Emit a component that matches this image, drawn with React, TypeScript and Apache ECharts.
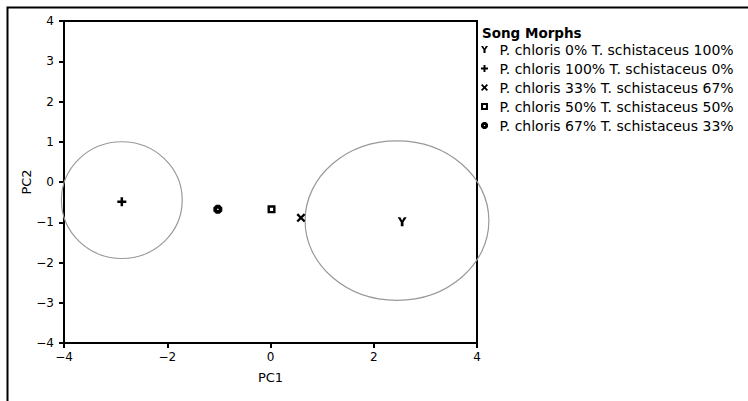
import React, { useEffect, useRef } from "react";
import * as echarts from "echarts";

const seriesNames = [
  "P. chloris 0% T. schistaceus 100%",
  "P. chloris 100% T. schistaceus 0%",
  "P. chloris 33% T. schistaceus 67%",
  "P. chloris 50% T. schistaceus 50%",
  "P. chloris 67% T. schistaceus 33%",
];
const pc1Values = [2.55, -2.88, 0.59, 0.02, -1.02];
const pc2Values = [-0.99, -0.49, -0.89, -0.68, -0.68];
// ellipses: center x, center y, radius x, radius y (data units)
const ellipses = [
  [-2.88, -0.45, 1.17, 1.45],
  [2.45, -0.96, 1.78, 1.98],
];

const SYM_Y = "path://M0,0L3,0L5,3.5L7,0L10,0L6.5,5.5L6.5,10L3.5,10L3.5,5.5Z";
const SYM_PLUS = "path://M3.6,0H6.4V3.6H10V6.4H6.4V10H3.6V6.4H0V3.6H3.6Z";
const SYM_X = "path://M0,1.8L1.8,0L5,3.2L8.2,0L10,1.8L6.8,5L10,8.2L8.2,10L5,6.8L1.8,10L0,8.2L3.2,5Z";
const SYM_SQ = "path://M0,0H10V10H0Z M3,3V7H7V3Z";
const SYM_OCT = "path://M3,0L7,0L10,3L10,7L7,10L3,10L0,7L0,3Z M4.2,4.2V5.8H5.8V4.2Z";
const symbols = [SYM_Y, SYM_PLUS, SYM_X, SYM_SQ, SYM_OCT];
const symbolSizes = [9, 9, 9, 8, 9];

const FONT = "DejaVu Sans";

export default function App() {
  const ref = useRef<HTMLDivElement>(null);
  useEffect(() => {
    document.body.style.margin = "0";
    const chart = echarts.init(ref.current!, null, { renderer: "svg" });
    const fmt = (v: number) => String(v).replace("-", "\u2212");
    const scatter = seriesNames.map((name, i) => ({
      name,
      type: "scatter",
      symbol: symbols[i],
      symbolSize: symbolSizes[i],
      itemStyle: { color: "#000", opacity: 1 },
      data: [[pc1Values[i], pc2Values[i]]],
      z: 3,
    }));
    chart.setOption({
      animation: false,
      textStyle: { fontFamily: FONT },
      title: {
        text: "Song Morphs",
        left: 482,
        top: 26,
        padding: 0,
        textStyle: { fontSize: 13.5, fontWeight: "bold", color: "#000", fontFamily: FONT },
      },
      legend: {
        orient: "vertical",
        left: 481,
        top: 40,
        padding: 0,
        itemGap: 0,
        itemWidth: 20,
        itemHeight: 7,
        data: seriesNames,
        textStyle: { fontSize: 14, lineHeight: 19, color: "#000", fontFamily: FONT },
      },
      grid: {
        left: 64,
        top: 21,
        right: 271,
        bottom: 58,
        show: true,
        borderColor: "#000",
        borderWidth: 2,
      },
      xAxis: {
        type: "value",
        min: -4,
        max: 4,
        interval: 2,
        name: "PC1",
        nameLocation: "middle",
        nameGap: 28,
        nameMoveOverlap: false,
        nameTextStyle: { fontSize: 13, color: "#000", fontFamily: FONT },
        axisLine: { onZero: false, lineStyle: { color: "#000", width: 2 } },
        axisTick: { length: 5, lineStyle: { color: "#000", width: 2 } },
        axisLabel: { fontSize: 12, color: "#000", margin: 8, formatter: fmt, fontFamily: FONT },
        splitLine: { show: false },
      },
      yAxis: {
        type: "value",
        min: -4,
        max: 4,
        interval: 1,
        name: "PC2",
        nameLocation: "middle",
        nameGap: 31,
        nameMoveOverlap: false,
        nameTextStyle: { fontSize: 13, color: "#000", fontFamily: FONT },
        axisLine: { onZero: false, lineStyle: { color: "#000", width: 2 } },
        axisTick: { length: 5, lineStyle: { color: "#000", width: 2 } },
        axisLabel: { fontSize: 12, color: "#000", margin: 10, formatter: fmt, fontFamily: FONT },
        splitLine: { show: false },
      },
      graphic: [
        {
          type: "rect",
          left: 5,
          top: 5,
          shape: { width: 800, height: 500 },
          style: { fill: "none", stroke: "#000", lineWidth: 2 },
          silent: true,
        },
      ],
      series: [
        {
          type: "custom",
          name: "ellipses",
          clip: false,
          data: ellipses,
          renderItem: (params: any, api: any) => {
            const c = api.coord([api.value(0), api.value(1)]);
            const s = api.size([api.value(2), api.value(3)]);
            return {
              type: "ellipse",
              shape: { cx: c[0], cy: c[1], rx: s[0], ry: s[1] },
              style: { fill: "none", stroke: "#999", lineWidth: 1.2 },
            };
          },
          z: 2,
        },
        ...scatter,
      ],
    });
    return () => chart.dispose();
  }, []);
  return <div ref={ref} style={{ width: 748, height: 401 }} />;
}
